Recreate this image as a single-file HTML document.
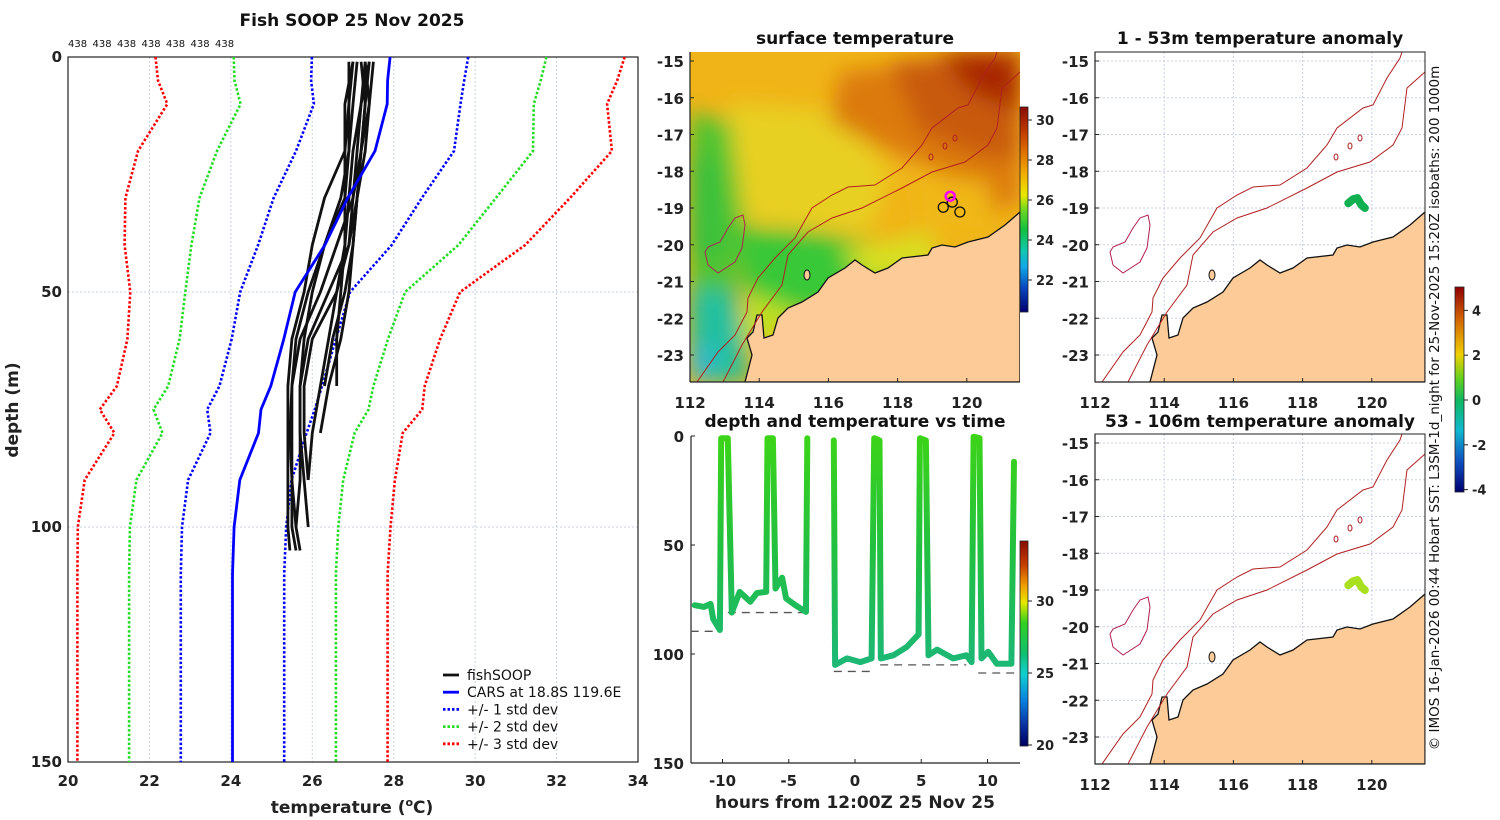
<!DOCTYPE html>
<html><head><meta charset="utf-8"><title>Fish SOOP 25 Nov 2025</title>
<style>
html,body{margin:0;padding:0;background:#fff;}
svg{display:block;font-family:"DejaVu Sans","Liberation Sans",sans-serif;}
.b{font-weight:bold;}
</style></head>
<body>
<svg id="fig" width="1500" height="820" viewBox="0 0 1500 820" xmlns="http://www.w3.org/2000/svg">
<defs>
<linearGradient id="sstbar" x1="0" y1="0" x2="0" y2="1">
<stop offset="0" stop-color="#8a0a00"/><stop offset="0.12" stop-color="#c03a00"/><stop offset="0.22" stop-color="#e07000"/><stop offset="0.33" stop-color="#f2b000"/><stop offset="0.43" stop-color="#e8e800"/><stop offset="0.5" stop-color="#70d820"/><stop offset="0.6" stop-color="#10c040"/><stop offset="0.7" stop-color="#10c8b0"/><stop offset="0.78" stop-color="#10a8e8"/><stop offset="0.88" stop-color="#0848c0"/><stop offset="1" stop-color="#000070"/>
</linearGradient>
<linearGradient id="dtbar" x1="0" y1="0" x2="0" y2="1">
<stop offset="0" stop-color="#8a0a00"/><stop offset="0.12" stop-color="#c84000"/><stop offset="0.22" stop-color="#f0a000"/><stop offset="0.3" stop-color="#e8e800"/><stop offset="0.4" stop-color="#30d020"/><stop offset="0.55" stop-color="#10c070"/><stop offset="0.65" stop-color="#10d0d0"/><stop offset="0.78" stop-color="#0880e0"/><stop offset="0.9" stop-color="#0830a0"/><stop offset="1" stop-color="#000060"/>
</linearGradient>
<linearGradient id="anbar" x1="0" y1="0" x2="0" y2="1">
<stop offset="0" stop-color="#900000"/><stop offset="0.15" stop-color="#d06000"/><stop offset="0.33" stop-color="#f0d000"/><stop offset="0.45" stop-color="#60d020"/><stop offset="0.55" stop-color="#10b860"/><stop offset="0.7" stop-color="#10b8d0"/><stop offset="0.85" stop-color="#1050c0"/><stop offset="1" stop-color="#000070"/>
</linearGradient>
<linearGradient id="trk" gradientUnits="userSpaceOnUse" x1="0" y1="436" x2="0" y2="660">
<stop offset="0" stop-color="#3cd418"/><stop offset="0.5" stop-color="#22c040"/><stop offset="1" stop-color="#1cb874"/>
</linearGradient>
<filter id="blur" x="-20%" y="-20%" width="140%" height="140%"><feGaussianBlur stdDeviation="11"/></filter>
<clipPath id="mapclip"><rect x="0" y="0" width="330" height="330"/></clipPath>
</defs>
</svg>
<script>
// ---------- data ----------
const stdDepths = [0,5,10,20,30,40,50,60,70,75,80,90,100,110,125,150];
const carsMean  = [27.91,27.85,27.84,27.54,26.87,26.31,25.58,25.30,24.98,24.74,24.68,24.22,24.08,24.04,24.04,24.04];
const carsStd   = [1.92,1.88,1.80,1.94,1.82,1.64,1.35,1.28,1.26,1.32,1.18,1.27,1.28,1.27,1.27,1.27];
const profDepths = [1,10,20,30,40,50,60,70,80,90,100,105];
const profA = [26.9,26.9,26.8,26.3,26.0,25.8,25.5,25.4,25.4,25.4,25.4,25.45];
const profB = [27.1,27.0,26.9,26.8,26.3,25.9,25.6,25.5,25.5,25.5,25.5,25.6];
const profC = [27.3,27.2,27.1,27.0,26.6,26.2,25.7,25.5,25.45,25.5,25.6,null];
const profD = [27.4,27.3,27.2,27.0,26.9,26.6,26.0,25.8,25.8,25.9,null,null];
const profE = [27.0,26.8,26.8,26.8,26.8,26.6,26.4,26.2,26.0,25.9,null,null];
const profF = [27.5,27.4,27.3,27.1,27.0,26.9,26.7,26.4,26.2,null,null,null];
const profG = [27.2,27.3,27.2,27.1,27.0,26.8,26.5,26.3,null,null,null,null];
const profH = [27.4,27.2,27.0,26.9,26.8,26.7,26.6,26.6,null,null,null,null];
const profI = [27.0,26.9,26.9,26.7,26.3,26.0,25.8,25.7,25.7,25.7,25.6,25.7];
const profJ = [27.3,27.4,27.2,27.1,26.9,26.4,25.9,25.7,25.7,25.8,25.9,null];
const profiles = [profA,profB,profC,profD,profE,profF,profG,profH,profI,profJ];
const tempTicks = [20,22,24,26,28,30,32,34];
const depthTicks = [0,50,100,150];
// depth vs time track
const trackHours = [-12.1,-11.4,-10.9,-10.7,-10.2,-10.1,-9.6,-9.3,-8.7,-7.9,-7.4,-6.7,-6.6,-6.2,-6.0,-5.5,-5.2,-4.5,-3.7,-3.6];
const trackDepth = [77.6,78.4,77,84,89,1,1,81,71.5,76,72,71.5,1,1,70,65,74.5,77.6,80.7,1];
const track2Hours = [-1.6,-1.5,-0.6,0.4,1.25,1.45,1.85,1.95,2.9,3.9,4.8,4.9,5.35,5.55,6.2,7.4,8.4,8.8,8.95,9.4,9.55,10.05,10.7,11.8,12.0];
const track2Depth = [2,105,102,103.7,102,1,2,102,100.6,96.8,91,1,2,100.6,98,102,100.6,103.7,0.3,1,102,99,104.5,104.5,11.8];
const bottomStart = [-12.4,-9.6,-1.6,1.9,9.3];
const bottomEnd   = [-10.2,-3.6,1.4,8.4,12.7];
const bottomDepth = [89.6,81,108,105,108.7];
const hourTicks = [-10,-5,0,5,10];
const latTicks = [-15,-16,-17,-18,-19,-20,-21,-22,-23];
const lonTicks = [112,114,116,118,120];
const sstTicks = [30,28,26,24,22];
const dtTicks = [30,25,20];
const anTicks = [4,2,0,-2,-4];

const NS = "http://www.w3.org/2000/svg";
const svg = document.getElementById('fig');
function mk(tag, attrs, parent){
  const e = document.createElementNS(NS, tag);
  for (const k in attrs) e.setAttribute(k, attrs[k]);
  (parent || svg).appendChild(e);
  return e;
}
function tx(x, y, s, attrs, parent){
  const e = mk('text', Object.assign({x:x, y:y}, attrs), parent);
  e.textContent = s;
  return e;
}

// ---------- left profile chart ----------
const L = {x0:68, x1:638, y0:57, y1:762};
const xT = t => L.x0 + (t - 20) * (L.x1 - L.x0) / 14;
const yD = d => L.y0 + d * (L.y1 - L.y0) / 150;

const left = mk('g', {});



tempTicks.forEach(t => {
  const g = mk('line', {x1:xT(t), x2:xT(t), y1:L.y0, y2:L.y1, stroke:'#c8d0e4', 'stroke-width':1, 'stroke-dasharray':'2,2'}, left);
  
  
  const lb = tx(xT(t), 786, String(t), {'text-anchor':'middle', 'font-size':15, class:'b', fill:'#222'}, left);
  
  
});
depthTicks.forEach(d => {
  const g = mk('line', {x1:L.x0, x2:L.x1, y1:yD(d), y2:yD(d), stroke:'#c8d0e4', 'stroke-width':1, 'stroke-dasharray':'2,2'}, left);
  
  
  const lb = tx(62, yD(d) + 5, String(d), {'text-anchor':'end', 'font-size':15, class:'b', fill:'#222'}, left);
  
  
});
const frame = mk('rect', {x:L.x0, y:L.y0, width:L.x1-L.x0, height:L.y1-L.y0, fill:'none', stroke:'#222', 'stroke-width':1.2}, left);



function pathFrom(xs, ys){
  let d = '';
  xs.forEach((x,i) => { if (x == null) return; d += (d ? 'L' : 'M') + x.toFixed(1) + ',' + ys[i].toFixed(1); });
  return d;
}
const bandColors = ['#0000ff', '#22dd22', '#ff0000'];
[1,2,3].forEach(k => {
  ['lo','hi'].forEach(side => {
    const xs = carsMean.map((m,i) => xT(side === 'lo' ? m - k*carsStd[i] : m + k*carsStd[i]));
    const ys = stdDepths.map(yD);
    const p = mk('path', {d:pathFrom(xs, ys), fill:'none', stroke:bandColors[k-1], 'stroke-width':2.6, 'stroke-dasharray':'2.5,2'}, left);
    
    
  });
});
profiles.forEach((pr, i) => {
  const xs = pr.map(t => t == null ? null : xT(t));
  const ys = profDepths.map(yD);
  const p = mk('path', {d:pathFrom(xs, ys), fill:'none', stroke:'#111', 'stroke-width':2.8, 'stroke-linejoin':'round'}, left);
  
  
});
const cars = mk('path', {d:pathFrom(carsMean.map(xT), stdDepths.map(yD)), fill:'none', stroke:'#0000ff', 'stroke-width':2.8}, left);



const t1 = tx(352, 26, 'Fish SOOP 25 Nov 2025', {'text-anchor':'middle', 'font-size':17, class:'b', fill:'#111'}, left);


for (let i = 0; i < 7; i++) {
  const c = tx(68 + i*24.5, 47, '438', {'font-size':10, fill:'#111'}, left);
  
  
}
const xt = tx(352, 813, '', {'text-anchor':'middle', 'font-size':17, class:'b', fill:'#222'}, left);


const ts1 = mk('tspan', {}, xt); ts1.textContent = 'temperature (';
const ts2 = mk('tspan', {dy:-7, 'font-size':11}, xt); ts2.textContent = 'o';
const ts3 = mk('tspan', {dy:7}, xt); ts3.textContent = 'C)';
const yt = tx(0, 0, 'depth (m)', {'text-anchor':'middle', 'font-size':17, class:'b', fill:'#222', transform:'translate(18,410) rotate(-90)'}, left);



const legItems = [['fishSOOP','#111',null],['CARS at 18.8S 119.6E','#0000ff',null],['+/- 1 std dev','#0000ff','2.5,2'],['+/- 2 std dev','#22dd22','2.5,2'],['+/- 3 std dev','#ff0000','2.5,2']];
const leg = mk('g', {}, left);


legItems.forEach((it, i) => {
  const y = 675 + i*17.2;
  const ln = mk('line', {x1:443, x2:459, y1:y, y2:y, stroke:it[1], 'stroke-width':2.8}, leg);
  if (it[2]) ln.setAttribute('stroke-dasharray', it[2]);
  
  
  const lt = tx(467, y + 5, it[0], {'font-size':14, fill:'#111'}, leg);
  
  
});

// ---------- maps ----------
const coast = [[330,160],[315,173],[298,185],[278,190],[265,195],[252,193],[242,196],[238,203],[212,206],[198,216],[185,221],[172,213],[165,208],[155,216],[138,226],[128,240],[112,250],[98,256],[88,266],[83,283],[74,286],[72,263],[67,263],[63,280],[57,286],[62,303],[55,330],[330,330]];
const isoA = [[7,330],[28,300],[45,283],[57,260],[58,246],[68,226],[85,206],[105,186],[122,156],[142,143],[158,135],[185,133],[212,116],[232,93],[242,76],[268,56],[278,53],[292,26],[305,6],[307,0]];
const isoB = [[33,330],[52,293],[72,260],[92,233],[98,203],[118,180],[142,166],[172,156],[212,136],[242,120],[275,110],[298,93],[307,76],[312,36],[330,20]];
const bank = [[15,200],[18,195],[30,190],[38,176],[45,166],[53,163],[55,173],[52,196],[45,210],[28,221],[18,213]];
const shipLon = [119.32,119.46,119.58,119.70,119.80];
const shipLat = [-18.87,-18.76,-18.73,-18.92,-19.0];
const lonPx = lon => (lon - 112) * 34.6;
const latPx = lat => 9 + (-15 - lat) * 36.75;
const pts = a => a.map(p => p.join(',')).join(' ');

function drawMap(ox, oy, kind, trackCol, name){
  const g = mk('g', {transform:'translate(' + ox + ',' + oy + ')'});
  
  
  const inner = mk('g', {'clip-path':'url(#mapclip)'}, g);
  if (kind === 'sst') {
    const bg = mk('rect', {x:0, y:0, width:330, height:330, fill:'#f0b418'}, inner);
    
    
    const f = mk('g', {filter:'url(#blur)'}, inner);
    
    
    mk('polygon', {points:'40,50 150,60 200,120 180,180 60,170 30,120', fill:'#e8d020'}, f);
    mk('polygon', {points:'0,60 40,70 55,180 45,240 0,240', fill:'#50c430'}, f);
    mk('polygon', {points:'0,100 25,110 30,200 0,210', fill:'#30c040'}, f);
    mk('polygon', {points:'50,175 120,180 200,195 235,215 180,245 100,265 55,245', fill:'#38c838'}, f);
    mk('polygon', {points:'60,240 110,260 70,300 50,280', fill:'#c0e020'}, f);
    mk('polygon', {points:'0,235 45,240 60,330 0,330', fill:'#22c0a0'}, f);
    mk('polygon', {points:'0,290 25,300 20,330 0,330', fill:'#30b8d8'}, f);
    mk('polygon', {points:'150,200 240,180 250,215 180,230', fill:'#d8e020'}, f);
    mk('polygon', {points:'150,20 330,0 330,150 300,160 250,120 190,95 140,70', fill:'#dc7a10'}, f);
    mk('polygon', {points:'200,10 330,0 330,110 280,100 230,80', fill:'#c85a08'}, f);
    mk('polygon', {points:'250,0 330,0 330,60 280,40', fill:'#a82800'}, f);
    mk('polygon', {points:'220,120 300,130 300,185 230,175', fill:'#f0b818'}, f);
  } else {
    const bg = mk('rect', {x:0, y:0, width:330, height:330, fill:'#ffffff'}, inner);
    
    
    lonTicks.forEach(l => {
      const gl = mk('line', {x1:lonPx(l), x2:lonPx(l), y1:0, y2:330, stroke:'#c8d0e8', 'stroke-width':1, 'stroke-dasharray':'2,2'}, inner);
      
      
    });
    latTicks.forEach(l => {
      const gl = mk('line', {x1:0, x2:330, y1:latPx(l), y2:latPx(l), stroke:'#c8d0e8', 'stroke-width':1, 'stroke-dasharray':'2,2'}, inner);
      
      
    });
  }
  const land = mk('polygon', {points:pts(coast), fill:'#fccb98', stroke:'#111', 'stroke-width':1.3}, inner);
  
  
  [isoA, isoB].forEach((iso, i) => {
    const p = mk('polyline', {points:pts(iso), fill:'none', stroke:'#b02020', 'stroke-width':1}, inner);
    
    
  });
  const bk = mk('polygon', {points:pts(bank), fill:'none', stroke:'#b02050', 'stroke-width':1}, inner);
  
  
  [[241,105],[255,94],[265,86]].forEach(c => {
    const e = mk('ellipse', {cx:c[0], cy:c[1], rx:2, ry:3, fill:'none', stroke:'#b02020', 'stroke-width':1}, inner);
    
    
  });
  const isl = mk('ellipse', {cx:117, cy:223, rx:3, ry:5, fill:'#fccb98', stroke:'#111', 'stroke-width':1}, inner);
  
  
  if (kind === 'sst') {
    [[0,0],[2,1],[4,0]].forEach(q => {
      const c = mk('circle', {cx:lonPx(shipLon[q[0]]), cy:latPx(shipLat[q[0]]) + 4, r:5, fill:'none', stroke:'#111', 'stroke-width':1.3}, inner);
      
      
    });
    const m = mk('circle', {cx:lonPx(119.52), cy:latPx(-18.68), r:4.5, fill:'none', stroke:'#ff00ff', 'stroke-width':2.5}, inner);
    
    
  } else {
    const tr = mk('polyline', {points:shipLon.map((l,i) => lonPx(l) + ',' + latPx(shipLat[i])).join(' '), fill:'none', stroke:trackCol, 'stroke-width':8, 'stroke-linecap':'round', 'stroke-linejoin':'round'}, inner);
    
    
  }
  const fr = mk('rect', {x:0, y:0, width:330, height:330, fill:'none', stroke:kind === 'sst' ? 'none' : '#222', 'stroke-width':1}, g);
  
  
  mk('line', {x1:0, x2:0, y1:0, y2:330, stroke:'#222', 'stroke-width':1.2}, g);
  mk('line', {x1:0, x2:330, y1:330, y2:330, stroke:'#222', 'stroke-width':1.2}, g);
  latTicks.forEach(l => {
    mk('line', {x1:0, x2:4, y1:latPx(l), y2:latPx(l), stroke:'#222'}, g);
    const lb = tx(-6, latPx(l) + 6, String(l), {'text-anchor':'end', 'font-size':15, class:'b', fill:'#222'}, g);
    
    
  });
  lonTicks.forEach(l => {
    mk('line', {x1:lonPx(l), x2:lonPx(l), y1:326, y2:330, stroke:'#222'}, g);
    const lb = tx(lonPx(l), 356, String(l), {'text-anchor':'middle', 'font-size':15, class:'b', fill:'#222'}, g);
    
    
  });
  return g;
}
drawMap(690, 52, 'sst', null, 'surface-temperature-map');
drawMap(1095, 52, 'anom', '#10b050', 'anomaly-map-1-53m');
drawMap(1095, 434, 'anom', '#a8e020', 'anomaly-map-53-106m');

function title(x, y, s, name){
  const t = tx(x, y, s, {'text-anchor':'middle', 'font-size':17, class:'b', fill:'#111'});
  
  
}
title(855, 44, 'surface temperature', 'sst-map-title');
title(1260, 44, '1 - 53m temperature anomaly', 'anomaly-top-title');
title(855, 427, 'depth and temperature vs time', 'depth-time-title');
title(1260, 427, '53 - 106m temperature anomaly', 'anomaly-bottom-title');

// ---------- depth vs time ----------
const xH = h => 855 + h * 13.25;
const yZ = d => 436 + d * 2.18;
const dt = mk('g', {});


mk('line', {x1:691, x2:691, y1:436, y2:763, stroke:'#222', 'stroke-width':1.2}, dt);
mk('line', {x1:691, x2:1020, y1:763, y2:763, stroke:'#222', 'stroke-width':1.2}, dt);
depthTicks.forEach(d => {
  mk('line', {x1:691, x2:695, y1:yZ(d), y2:yZ(d), stroke:'#222'}, dt);
  const lb = tx(684, yZ(d) + 6, String(d), {'text-anchor':'end', 'font-size':15, class:'b', fill:'#222'}, dt);
  
  
});
hourTicks.forEach(h => {
  mk('line', {x1:xH(h), x2:xH(h), y1:759, y2:763, stroke:'#222'}, dt);
  const lb = tx(xH(h), 786, String(h), {'text-anchor':'middle', 'font-size':15, class:'b', fill:'#222'}, dt);
  
  
});
bottomStart.forEach((s, i) => {
  const b = mk('line', {x1:xH(s), x2:xH(bottomEnd[i]), y1:yZ(bottomDepth[i]), y2:yZ(bottomDepth[i]), stroke:'#555', 'stroke-width':1.3, 'stroke-dasharray':'8,6'}, dt);
  
  
});
[[trackHours, trackDepth],[track2Hours, track2Depth]].forEach(tr => {
  const p = mk('path', {d:pathFrom(tr[0].map(xH), tr[1].map(yZ)), fill:'none', stroke:'url(#trk)', 'stroke-width':6, 'stroke-linejoin':'round', 'stroke-linecap':'round'}, dt);
  
  
});
const xl = tx(855, 808, 'hours from 12:00Z 25 Nov 25', {'text-anchor':'middle', 'font-size':17, class:'b', fill:'#222'}, dt);



// ---------- colorbars ----------
function colorbar(x, y, w, h, grad, ticks, yOf, name){
  const g = mk('g', {});
  
  
  mk('rect', {x:x, y:y, width:w, height:h, fill:'url(#' + grad + ')', stroke:'#222', 'stroke-width':0.8}, g);
  ticks.forEach(t => {
    mk('line', {x1:x + w, x2:x + w + 4, y1:yOf(t), y2:yOf(t), stroke:'#222'}, g);
    const lb = tx(x + w + 8, yOf(t) + 5, String(t), {'font-size':13, class:'b', fill:'#222'}, g);
    
    
  });
}
colorbar(1020, 107, 8, 205, 'sstbar', sstTicks, t => 120 + (30 - t) * 20, 'sst-colorbar');
colorbar(1020, 541, 8, 205, 'dtbar', dtTicks, t => 601 + (30 - t) * 14.4, 'temperature-colorbar');
colorbar(1455, 287, 9, 205, 'anbar', anTicks, t => 400 - t * 22.4, 'anomaly-colorbar');

const cr = tx(0, 0, '\u00a9 IMOS 16-Jan-2026 00:44 Hobart SST: L3SM-1d_night for 25-Nov-2025 15:20Z isobaths: 200  1000m', {'text-anchor':'middle', 'font-size':13.5, fill:'#111', transform:'translate(1439,408) rotate(-90)', 'xml:space':'preserve'});


</script>
</body></html>
